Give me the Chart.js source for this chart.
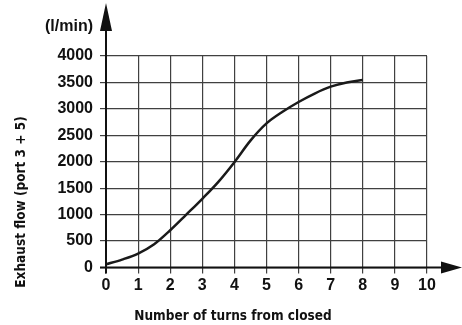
<!DOCTYPE html>
<html>
<head>
<meta charset="utf-8">
<script src="https://cdn.jsdelivr.net/npm/chart.js@4"></script>
<style>
  html, body { margin: 0; padding: 0; background: #fff; }
  #wrap { width: 462px; height: 325px; position: relative; }
</style>
</head>
<body>
<div id="wrap"><canvas id="c" width="462" height="325"></canvas></div>
<script>
// Data
const turns = [0, 0.5, 1, 1.5, 2, 2.5, 3, 3.5, 4, 4.5, 5, 5.5, 6, 6.5, 7, 7.5, 8];
const flow  = [60, 150, 264, 440, 704, 1000, 1300, 1620, 1992, 2400, 2725, 2945, 3130, 3290, 3420, 3500, 3547];
const xTicks = [0, 1, 2, 3, 4, 5, 6, 7, 8, 9, 10];
const yTicks = [0, 500, 1000, 1500, 2000, 2500, 3000, 3500, 4000];
const yUnit = '(l/min)';
const xTitle = 'Number of turns from closed';
const yTitle = 'Exhaust flow (port 3 + 5)';

const points = turns.map((t, i) => ({ x: t, y: flow[i] }));
const tickFont = { family: 'Liberation Sans, Arial, Helvetica, sans-serif', size: 16, weight: 'bold' };
const titleFont = 'bold 13.5px "Liberation Sans Narrow", "DejaVu Sans Condensed", Roboto, sans-serif';

const decor = {
  id: 'decor',
  afterDraw(chart) {
    const ctx = chart.ctx;
    const xs = chart.scales.x, ys = chart.scales.y;
    const x0 = xs.getPixelForValue(0);
    const y0 = ys.getPixelForValue(0);
    ctx.save();
    ctx.strokeStyle = '#111';
    ctx.fillStyle = '#111';
    ctx.lineWidth = 2;
    // y axis line + arrow
    ctx.beginPath();
    ctx.moveTo(x0, y0 + 6);
    ctx.lineTo(x0, 25);
    ctx.stroke();
    ctx.beginPath();
    ctx.moveTo(x0, 3);
    ctx.lineTo(x0 + 6, 31);
    ctx.lineTo(x0 - 6, 31);
    ctx.closePath();
    ctx.fill();
    // x axis line + arrow
    ctx.beginPath();
    ctx.moveTo(x0 - 6, y0);
    ctx.lineTo(445, y0);
    ctx.stroke();
    ctx.beginPath();
    ctx.moveTo(462, y0);
    ctx.lineTo(441, y0 - 6);
    ctx.lineTo(441, y0 + 6);
    ctx.closePath();
    ctx.fill();
    // unit label
    ctx.font = 'bold 16px Liberation Sans, Arial, Helvetica, sans-serif';
    ctx.textAlign = 'right';
    ctx.textBaseline = 'middle';
    ctx.fillText(yUnit, 93, 27);
    // axis titles
    ctx.font = titleFont;
    ctx.textAlign = 'center';
    ctx.fillText(xTitle, 233, 316);
    ctx.translate(21, 202);
    ctx.rotate(-Math.PI / 2);
    ctx.fillText(yTitle, 0, 0);
    ctx.restore();
  }
};

new Chart(document.getElementById('c'), {
  type: 'scatter',
  data: {
    datasets: [{
      data: points,
      showLine: true,
      borderColor: '#1a1a1a',
      borderWidth: 2.5,
      pointRadius: 0,
      cubicInterpolationMode: 'monotone',
      fill: false
    }]
  },
  options: {
    responsive: false,
    animation: false,
    devicePixelRatio: 1,
    layout: { padding: { left: 0, right: 35, top: 56, bottom: 0 } },
    plugins: { legend: { display: false }, tooltip: { enabled: false } },
    scales: {
      x: {
        type: 'linear',
        min: 0, max: 10,
        afterBuildTicks: (s) => { s.ticks = xTicks.map(v => ({ value: v })); },
        afterFit: (s) => { s.height = 57.5; },
        border: { display: false },
        grid: { color: '#404040', lineWidth: 1.2, tickLength: 6 },
        ticks: { color: '#111', font: tickFont, padding: 2, maxRotation: 0, callback: (v) => String(v) }
      },
      y: {
        type: 'linear',
        min: 0, max: 4000,
        afterBuildTicks: (s) => { s.ticks = yTicks.map(v => ({ value: v })); },
        afterFit: (s) => { s.width = 106; },
        border: { display: false },
        grid: { color: '#404040', lineWidth: 1.2, tickLength: 6 },
        ticks: { color: '#111', font: tickFont, padding: 7, callback: (v) => String(v) }
      }
    }
  },
  plugins: [decor]
});
</script>
</body>
</html>
